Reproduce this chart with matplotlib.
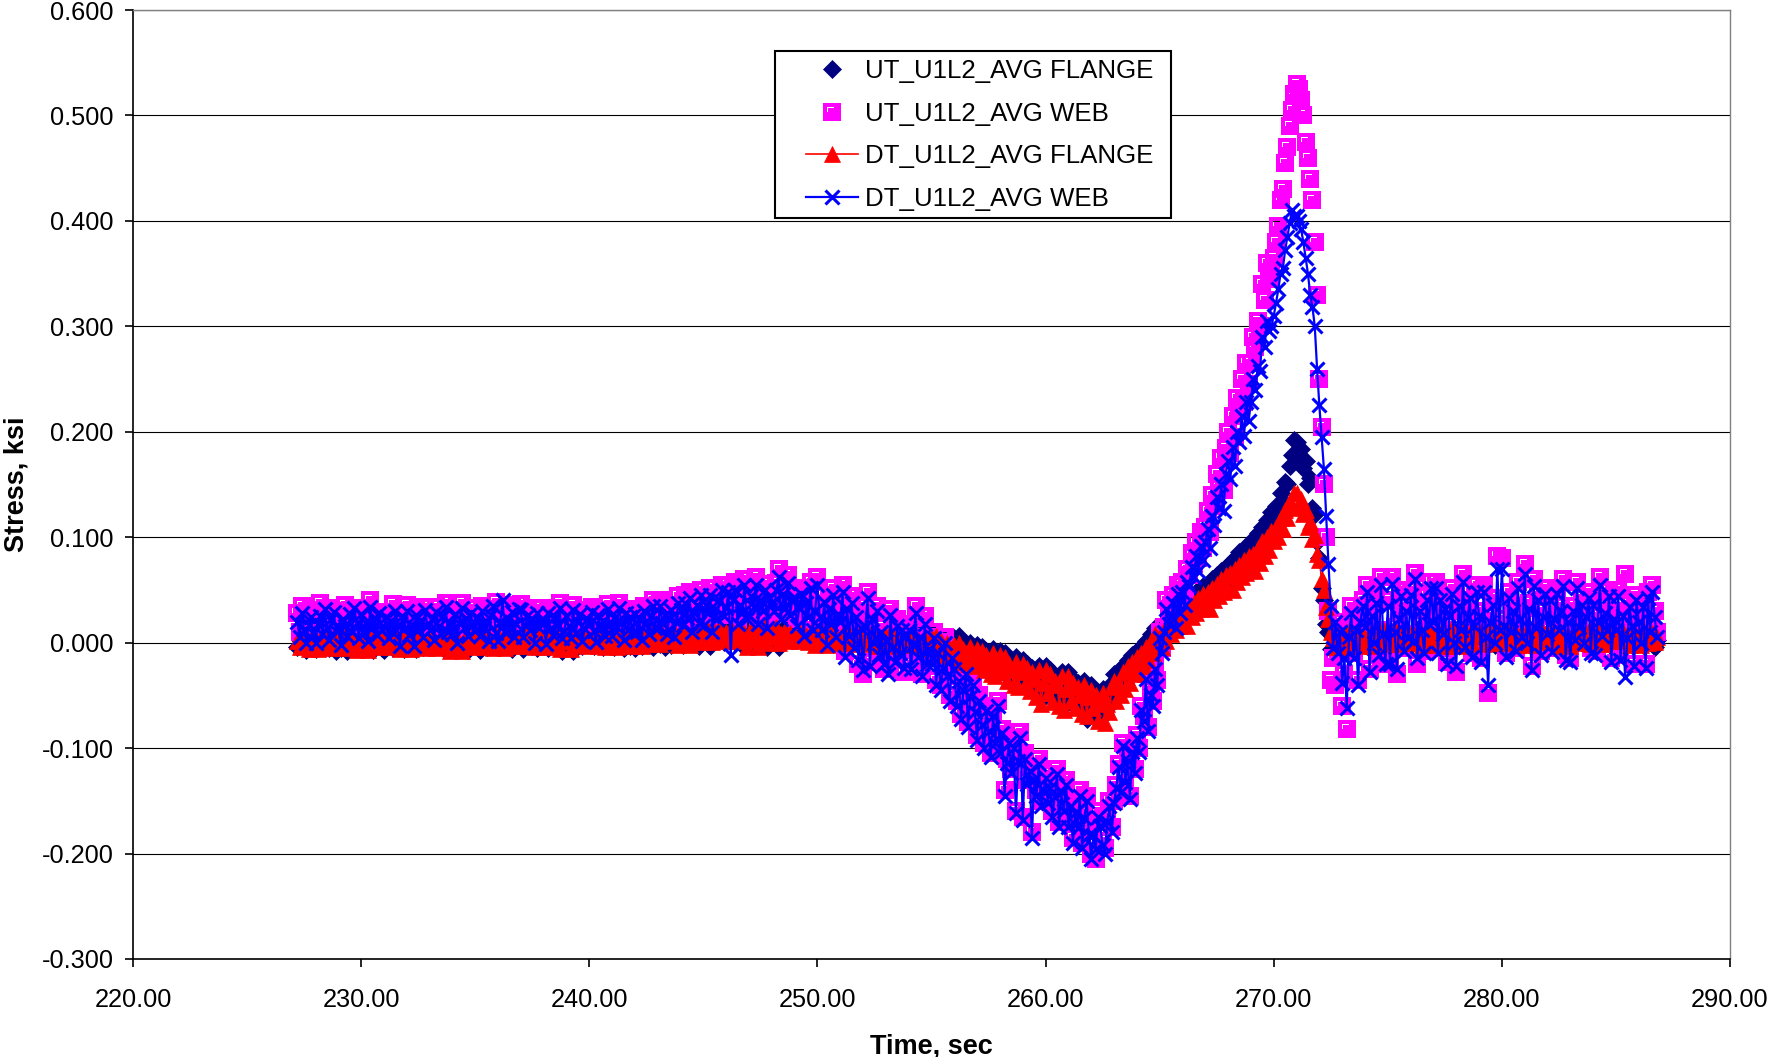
import numpy as np
import matplotlib
matplotlib.use("Agg")
import matplotlib.pyplot as plt
from matplotlib.path import Path
from matplotlib.patches import Rectangle
from matplotlib.ticker import FormatStrFormatter

plt.rcParams["font.family"] = ["Liberation Sans", "DejaVu Sans"]
plt.rcParams["axes.unicode_minus"] = False

# Sampling: first sample time and interval (s)
t_start = 227.2
t_step = 0.1

# Stress readings in thousandths of a ksi, one row per second (x.0 ... x.9)
ut_flange = [
    -4, 3, -2, 5, -7, 1, 6, -3,
    -6, 1, 4, -3, 2, 7, -5, 0, 3, -8,
    5, -5, 0, 3, -8, 2, -2, 6, -4, 1,
    2, -2, 6, -4, 1, -7, 4, -1, 2, -5,
    -7, 4, -1, 2, -5, 3, -3, 5, 0, -6,
    3, -3, 5, 0, -6, 1, 4, -4, 2, -2,
    1, 4, -4, 2, -2, 6, -5, 0, 3, -3,
    6, -5, 0, 3, -3, -1, 2, -7, 4, 1,
    -1, 2, -7, 4, 1, -4, 5, -2, 0, 3,
    -4, 5, -2, 0, 3, 2, -6, 4, -1, 5,
    2, -6, 4, -1, 5, -3, 1, -5, 6, 0,
    -3, 1, -5, 6, 0, 3, -2, 2, -8, 4,
    3, -2, 2, -8, 4, 0, 5, -3, 2, -1,
    0, 5, -3, 2, -1, 4, -4, 1, 6, -2,
    4, -4, 1, 6, -2, -5, 3, 0, -3, 5,
    -5, 3, 0, -3, 5, 2, -1, 6, -4, 3,
    2, -1, 6, -4, 3, 5, -2, 8, 0, 4,
    5, -2, 8, 0, 4, 9, 2, 12, -3, 7,
    9, 2, 12, -3, 7, 14, 4, 10, 18, 1,
    14, 4, 10, 18, 1, 8, 15, -2, 11, 6,
    8, 15, -2, 11, 6, 16, 5, 12, -4, 9,
    16, 5, 12, -4, 9, 13, 3, 17, 8, 10,
    13, 3, 17, 8, 10, 6, 12, 2, 9, 14,
    6, 12, 2, 9, 14, 4, 11, 7, -1, 10,
    4, 11, 7, -1, 10, 8, 13, 3, 9, 5,
    8, 13, 3, 9, 5, 12, 6, 10, 2, 8,
    12, 6, 10, 2, 8, 9, 4, 11, 6, 3,
    9, 4, 11, 6, 3, 7, 1, 5, -2, 4,
    8, -2, 10, -6, 6, 0, -8, 4, -10, -2,
    4, -10, 6, -14, -2, -6, -16, 0, -18, -8,
    -2, -16, -4, -22, -8, -14, -26, -6, -28, -16,
    -8, -24, -10, -32, -16, -22, -36, -14, -38, -24,
    -16, -36, -20, -42, -24, -30, -48, -22, -54, -34,
    -22, -44, -26, -52, -32, -36, -56, -28, -60, -40,
    -28, -52, -34, -60, -38, -46, -66, -36, -72, -50,
    -40, -60, -46, -70, -52, -44, -68, -54, -60, -38,
    -30, -50, -34, -44, -22, -38, -16, -32, -12, -24,
    -8, -22, -4, -16, 2, -10, 8, -4, 14, 4,
    12, 2, 18, 8, 24, 14, 28, 18, 32, 22,
    28, 38, 24, 42, 32, 46, 36, 50, 40, 54,
    44, 56, 40, 60, 48, 64, 52, 68, 56, 72,
    60, 76, 58, 80, 68, 86, 72, 90, 78, 94,
    82, 98, 80, 104, 90, 110, 96, 116, 104, 124,
    116, 130, 122, 142, 134, 152, 150, 168, 178, 192,
    190, 176, 184, 166, 172, 150, 156, 128, 122, 95,
    80, 52, 40, 18, 10, -6, 8, -2, 4, 10,
    10, -6, 4, 12, -2, 6, -3, 9, 2, 14,
    6, -3, 9, 2, 14, 0, 8, -5, 5, 10,
    0, 8, -5, 5, 10, -2, 7, 3, 12, -4,
    -2, 7, 3, 12, -4, 6, 1, 9, -3, 4,
    6, 1, 9, -3, 4, 8, -1, 5, 11, 2,
    8, -1, 5, 11, 2, -3, 6, 10, 0, 7,
    -3, 6, 10, 0, 7, 4, 12, -2, 8, 3,
    4, 12, -2, 8, 3, 9, 0, 6, -4, 5,
    9, 0, 6, -4, 5, 2, 10, 4, 7, -3,
    2, 10, 4, 7, -3, 6, -2, 8, 3, 11,
    6, -2, 8, 3, 11, 0, 5, -1, 9, 4,
    0, 5, -1, 9, 4, 7, 2, 10, -3, 6,
    7, 2, 10, -3, 6, 3, 8, -2, 5, 9,
    3, 8, -2, 5, 9, 1, 6, -4, 3,
]

ut_web = [
    28, 10, 35, 18, 6, 24, 31, 14,
    5, 22, 38, 12, 27, 16, 33, 9, 20, 30,
    16, 3, 27, 36, 9, 21, 13, 32, 24, 7,
    33, 14, 24, 6, 40, 19, 11, 28, 2, 22,
    19, 29, 8, 25, 37, 13, 21, 4, 30, 17,
    36, 11, 22, 2, 30, 18, 26, 9, 34, 14,
    17, 26, 7, 34, 21, 12, 29, 38, 5, 23,
    12, 31, 4, 23, 38, 16, 27, 10, 20, 33,
    15, 28, 10, 35, 19, 3, 24, 32, 13, 39,
    6, 24, 32, 14, 27, 20, 36, 8, 18, 29,
    37, 9, 21, 30, 16, 26, 4, 33, 12, 23,
    25, 3, 33, 18, 11, 29, 20, 38, 7, 15,
    29, 20, 8, 36, 13, 24, 31, 5, 19, 27,
    22, 34, 15, 5, 31, 18, 26, 10, 37, 21,
    10, 27, 19, 38, 24, 6, 32, 16, 28, 13,
    32, 14, 26, 7, 35, 21, 11, 29, 40, 18,
    18, 40, 23, 30, 12, 27, 35, 9, 25, 44,
    36, 21, 45, 28, 48, 15, 33, 42, 24, 50,
    20, 42, 33, 52, 15, 38, 27, 46, 55, 30,
    38, 55, 26, 47, 58, 22, 41, 34, 60, 29,
    30, 50, 40, 62, 24, 45, 36, 56, 19, 48,
    44, 35, 57, 70, 28, 52, 39, 64, 32, 47,
    48, 22, 39, 52, 12, 44, 30, 58, 18, 36,
    62, 30, 18, 45, 5, 38, 25, 52, 10, 33,
    25, 55, -8, 38, 12, 44, 0, 30, -20, 20,
    -30, 20, 48, -18, 28, 5, 35, -8, 15, -25,
    8, -25, 32, 2, -12, 22, -5, 18, -28, 12,
    18, -20, 5, 35, -8, 10, -30, 25, -15, 0,
    -15, 10, -35, -5, -40, -20, 5, -28, -50, -10,
    -20, -55, -32, -68, -40, -25, -75, -48, -35, -62,
    -88, -50, -72, -95, -60, -80, -105, -65, -90, -55,
    -100, -82, -140, -110, -90, -120, -95, -160, -108, -85,
    -165, -105, -130, -118, -180, -125, -140, -110, -150, -135,
    -125, -148, -135, -160, -142, -120, -170, -138, -155, -130,
    -170, -150, -185, -158, -172, -140, -190, -162, -145, -178,
    -200, -178, -205, -160, -170, -188, -195, -165, -150, -175,
    -150, -135, -115, -140, -95, -128, -110, -145, -100, -120,
    -88, -100, -60, -70, -30, -80, -45, -55, -20, -35,
    10, -5, 15, 40, 25, 30, 45, 20, 55, 35,
    58, 45, 70, 64, 85, 75, 95, 80, 105, 90,
    110, 125, 105, 140, 130, 160, 150, 175, 145, 185,
    200, 180, 215, 195, 232, 220, 250, 228, 265, 245,
    265, 290, 280, 305, 300, 340, 325, 360, 345, 350,
    365, 380, 395, 420, 430, 455, 470, 490, 505, 520,
    530, 525, 515, 500, 475, 460, 440, 420, 380, 330,
    250, 205, 150, 100, 30, -35, -15, -40, 5, 20,
    -60, -30, -82, 10, 35, -10, 15, -35, 25, 40,
    20, 55, -25, 30, 5, 45, -10, 62, 12, -20,
    40, -15, 62, 15, -30, 28, 50, -5, 35, 8,
    50, 8, 66, -20, 35, 18, -8, 45, 22, 58,
    25, 58, -5, 45, 12, 38, -18, 30, 52, 2,
    -28, 40, 18, 65, 2, 30, 48, -10, 22, 55,
    30, -15, 55, 10, -48, 25, 42, 5, 82, 18,
    80, 22, -10, 48, 15, 35, -5, 58, 28, 10,
    75, 5, 38, -22, 60, 20, 45, -8, 30, 52,
    12, 45, -5, 28, 52, 18, 35, 60, -12, 25,
    -15, 35, 8, 58, 20, 42, 5, 30, 48, -5,
    42, -8, 25, 62, 10, 35, 18, 50, -15, 28,
    18, 50, -12, 30, 65, 8, 40, 22, -20, 45,
    25, 5, 40, -20, 48, 15, 55, 30, 10,
]

dt_flange = [
    2, -4, 5, 0, 3, -6, 1, 7,
    3, -6, 1, 7, -2, 4, 0, -5, 6, 2,
    4, 0, -5, 6, 2, -3, 5, 1, -7, 3,
    -3, 5, 1, -7, 3, 6, -1, 3, -4, 8,
    6, -1, 3, -4, 8, 0, 4, -6, 2, 5,
    0, 4, -6, 2, 5, -2, 7, 1, -5, 3,
    -2, 7, 1, -5, 3, 5, -3, 4, 0, -8,
    5, -3, 4, 0, -8, 2, 6, -2, 4, -4,
    2, 6, -2, 4, -4, 7, 0, 3, -5, 5,
    7, 0, 3, -5, 5, -1, 4, 8, -3, 2,
    -1, 4, 8, -3, 2, 5, -4, 1, 6, -2,
    5, -4, 1, 6, -2, 3, 7, -6, 2, 4,
    3, 7, -6, 2, 4, -2, 5, 0, 8, -3,
    -2, 5, 0, 8, -3, 6, 1, -4, 4, 7,
    6, 1, -4, 4, 7, 0, 9, 2, -3, 6,
    0, 9, 2, -3, 6, 4, -1, 8, 3, 10,
    4, -1, 8, 3, 10, 7, 2, 11, 5, -2,
    7, 2, 11, 5, -2, 9, 3, 12, 6, 1,
    9, 3, 12, 6, 1, 10, 4, 14, 7, 2,
    10, 4, 14, 7, 2, 8, 13, 3, 9, -4,
    8, 13, 3, 9, -4, 11, 5, 15, 0, 8,
    11, 5, 15, 0, 8, 6, 12, 2, 9, 4,
    6, 12, 2, 9, 4, 7, 1, 10, 5, -2,
    7, 1, 10, 5, -2, 4, 9, 0, 6, 2,
    4, 9, 0, 6, 2, 8, 3, -1, 7, 5,
    8, 3, -1, 7, 5, 2, 6, -3, 4, 8,
    2, 6, -3, 4, 8, 5, 0, 7, -2, 3,
    5, 0, 7, -2, 3, 1, -4, 4, -6, 0,
    4, -6, 6, -10, 2, -4, -12, 0, -14, -6,
    -2, -14, 0, -18, -6, -10, -20, -4, -22, -12,
    -6, -20, -8, -26, -12, -18, -30, -10, -32, -20,
    -12, -28, -14, -36, -20, -26, -40, -18, -42, -28,
    -20, -40, -24, -46, -28, -34, -52, -26, -58, -38,
    -26, -48, -30, -56, -36, -40, -60, -32, -64, -44,
    -32, -55, -38, -62, -42, -50, -68, -40, -70, -52,
    -45, -62, -50, -74, -56, -48, -76, -58, -66, -42,
    -36, -55, -40, -50, -28, -44, -22, -38, -18, -30,
    -14, -28, -10, -22, -4, -16, 2, -10, 8, -2,
    6, -4, 12, 2, 18, 8, 22, 12, 26, 16,
    20, 30, 16, 34, 24, 38, 28, 42, 32, 46,
    36, 48, 32, 52, 40, 56, 44, 60, 48, 64,
    52, 66, 50, 70, 58, 74, 62, 78, 66, 82,
    70, 84, 68, 90, 76, 96, 82, 100, 88, 106,
    96, 110, 100, 118, 108, 126, 118, 134, 128, 142,
    142, 130, 136, 122, 126, 110, 114, 98, 102, 84,
    78, 60, 50, 34, 22, 10, 4, -4, 8, 2,
    6, -4, 10, 2, 12, 4, 0, 8, -3, 6,
    4, 0, 8, -3, 6, 10, 2, 5, 13, -1,
    10, 2, 5, 13, -1, 3, 9, 0, 6, 11,
    3, 9, 0, 6, 11, -2, 5, 12, 1, 7,
    -2, 5, 12, 1, 7, 8, -3, 4, 14, 2,
    8, -3, 4, 14, 2, 6, 10, -1, 5, 9,
    6, 10, -1, 5, 9, 12, 3, 7, 0, 15,
    12, 3, 7, 0, 15, 4, 9, -2, 6, 11,
    4, 9, -2, 6, 11, 1, 7, 13, 3, 8,
    1, 7, 13, 3, 8, -3, 5, 10, 2, 6,
    -3, 5, 10, 2, 6, 9, 0, 4, 12, -1,
    9, 0, 4, 12, -1, 5, 8, 2, 10, 3,
    5, 8, 2, 10, 3, 7, -2, 6, 11, 0,
    7, -2, 6, 11, 0, 4, 9, 1, 5,
]

dt_web = [
    20, 5, 28, 12, 0, 17, 24, 9,
    0, 18, 25, 8, 32, 14, 3, 22, 29, 11,
    14, -2, 22, 16, 6, 27, 10, 33, 19, 4,
    27, 10, 19, 2, 34, 15, 23, 7, 28, 12,
    15, 24, 4, 21, 9, 30, 17, -3, 25, 13,
    30, 7, 17, -3, 26, 12, 21, 5, 31, 16,
    12, 22, 3, 29, 16, 8, 25, 34, 10, 19,
    8, 27, 0, 19, 33, 14, 23, 6, 28, 17,
    11, 24, 6, 30, 14, 20, 2, 26, 35, 9,
    2, 20, 40, 10, 23, 15, 29, 5, 18, 32,
    31, 5, 17, 26, 12, 22, 0, 28, 14, 20,
    21, -1, 28, 14, 7, 24, 16, 33, 4, 11,
    25, 16, 4, 31, 9, 20, 27, 2, 13, 22,
    18, 29, 11, 1, 26, 14, 21, 6, 32, 17,
    6, 23, 15, 33, 20, 3, 28, 12, 24, 9,
    27, 10, 22, 3, 30, 18, 8, 25, 35, 14,
    14, 35, 19, 26, 8, 22, 31, 5, 20, 38,
    31, 17, 38, 23, 42, 10, 28, 36, 19, 45,
    16, 36, 28, 45, 10, 32, 22, 40, 50, 25,
    33, 48, -12, 40, 50, 18, 36, 28, 55, 22,
    25, 44, 34, 55, 18, 40, 30, 50, 14, 42,
    38, 30, 50, 62, 22, 46, 33, 57, 26, 41,
    42, 16, 33, 46, 6, 38, 24, 52, 12, 30,
    55, 24, 12, 39, -2, 32, 18, 45, 5, 27,
    20, 48, -14, 32, 6, 38, -5, 24, -16, 14,
    -26, 15, 42, -22, 22, 0, 30, -12, 10, -20,
    2, -30, 26, -4, -18, 16, -10, 12, -24, 6,
    12, -25, -2, 28, -14, 5, -32, 18, -20, -6,
    -20, 4, -40, -10, -45, -24, 0, -32, -55, -15,
    -25, -60, -36, -72, -45, -30, -80, -52, -40, -66,
    -92, -55, -78, -100, -65, -84, -108, -70, -95, -60,
    -105, -86, -145, -114, -95, -124, -100, -162, -112, -90,
    -168, -110, -134, -122, -185, -130, -145, -115, -155, -140,
    -128, -152, -138, -165, -146, -125, -175, -142, -160, -135,
    -175, -155, -190, -162, -176, -145, -195, -166, -150, -182,
    -205, -182, -196, -165, -174, -192, -200, -170, -155, -180,
    -152, -138, -118, -142, -98, -132, -112, -148, -104, -124,
    -90, -104, -64, -74, -34, -84, -50, -60, -25, -40,
    4, -10, 10, 32, 18, 24, 38, 14, 46, 28,
    48, 36, 58, 54, 72, 62, 82, 68, 92, 78,
    95, 108, 90, 120, 112, 138, 128, 150, 125, 160,
    172, 155, 186, 168, 200, 190, 215, 196, 228, 210,
    228, 250, 240, 262, 258, 290, 280, 305, 296, 300,
    310, 322, 335, 350, 355, 372, 385, 398, 410, 405,
    405, 400, 392, 380, 365, 350, 330, 318, 300, 260,
    225, 195, 165, 120, 75, 35, -5, 20, -10, 10,
    -38, -15, -62, 5, 28, -15, 12, -40, 20, 35,
    15, 48, -28, 25, 0, 38, -12, 55, 8, -20,
    35, -20, 56, 10, -25, 22, 44, -8, 30, 4,
    45, 2, 60, -15, 30, 12, -10, 40, 18, 52,
    20, 52, -10, 40, 8, 32, -20, 25, 46, 0,
    -22, 35, 12, 58, -4, 24, 42, -14, 16, 48,
    25, -18, 48, 5, -40, 20, 36, 0, 70, 12,
    70, 16, -14, 42, 10, 30, -8, 52, 22, 5,
    65, 0, 32, -26, 54, 14, 40, -12, 24, 46,
    8, 40, -9, 22, 46, 12, 30, 54, -16, 20,
    -18, 30, 3, 52, 15, 36, 0, 24, 42, -10,
    36, -12, 20, 55, 6, 28, 12, 44, -18, 22,
    12, 44, -16, 25, -33, 4, 34, 16, -22, 40,
    20, 0, 34, -24, 42, 10, 48, 24, 5,
]

series_labels = ["UT_U1L2_AVG FLANGE", "UT_U1L2_AVG WEB",
                 "DT_U1L2_AVG FLANGE", "DT_U1L2_AVG WEB"]
x_ticks = [220, 230, 240, 250, 260, 270, 280, 290]
y_ticks = [-0.3, -0.2, -0.1, 0.0, 0.1, 0.2, 0.3, 0.4, 0.5, 0.6]


def times(vals):
    return np.round(t_start + t_step * np.arange(len(vals)), 2)


def ksi(vals):
    return np.asarray(vals, dtype=float) / 1000.0


# Square marker with a thin light "corner" highlight cut into it
sq_verts = [(-0.5, -0.5), (0.5, -0.5), (0.5, 0.5), (-0.5, 0.5), (-0.5, -0.5),
            (-0.3, 0.0), (-0.3, 0.3), (0.12, 0.3), (0.12, 0.23),
            (-0.23, 0.23), (-0.23, 0.0), (-0.3, 0.0)]
sq_codes = [Path.MOVETO, Path.LINETO, Path.LINETO, Path.LINETO, Path.CLOSEPOLY,
            Path.MOVETO, Path.LINETO, Path.LINETO, Path.LINETO,
            Path.LINETO, Path.LINETO, Path.CLOSEPOLY]
highlight_square = Path(sq_verts, sq_codes)

W, H = 1771, 1057
fig = plt.figure(figsize=(W / 100, H / 100), dpi=100)
ax = fig.add_axes([133 / W, 1 - 959 / H, (1730 - 133) / W, (959 - 10) / H])

h1, = ax.plot(times(ut_flange), ksi(ut_flange), ls="none", marker="D",
              ms=9, mfc="#000080", mec="#000080", mew=0.5,
              label=series_labels[0], zorder=3)
h2, = ax.plot(times(ut_web), ksi(ut_web), ls="none", marker=highlight_square,
              ms=12.5, mfc="#FF00FF", mec="#FF00FF", mew=0.0,
              label=series_labels[1], zorder=4)
h3, = ax.plot(times(dt_flange), ksi(dt_flange), ls="-", lw=1.2, color="#FF0000",
              marker="^", ms=12, mfc="#FF0000", mec="#FF0000", mew=0.5,
              label=series_labels[2], zorder=5)
h4, = ax.plot(times(dt_web), ksi(dt_web), ls="-", lw=1.6, color="#0000FF",
              marker="x", ms=10, mec="#0000FF", mew=2.2,
              label=series_labels[3], zorder=6)

ax.set_xlim(220, 290)
ax.set_ylim(-0.3, 0.6)
ax.set_xticks(x_ticks)
ax.set_yticks(y_ticks)
ax.xaxis.set_major_formatter(FormatStrFormatter("%.2f"))
ax.yaxis.set_major_formatter(FormatStrFormatter("%.3f"))
ax.yaxis.grid(True, color="black", lw=0.8)
ax.set_axisbelow(True)

for side in ("left", "bottom"):
    ax.spines[side].set_color("black")
    ax.spines[side].set_linewidth(1.2)
for side in ("top", "right"):
    ax.spines[side].set_color("#808080")
    ax.spines[side].set_linewidth(1.0)

ax.tick_params(axis="both", direction="out", length=6, width=1.2,
               labelsize=18.3, colors="black")
ax.tick_params(axis="y", pad=8)
ax.tick_params(axis="x", pad=15)

fig.text(17 / W, 1 - 484 / H, "Stress, ksi", rotation=90, ha="center",
         va="center", fontsize=19.5, fontweight="bold")
fig.text(931.5 / W, 1 - 1046 / H, "Time, sec", ha="center", va="center",
         fontsize=19.5, fontweight="bold")

# Legend box
fig.add_artist(Rectangle((775 / W, 1 - 218 / H), (1171 - 775) / W, (218 - 51) / H,
                         transform=fig.transFigure, facecolor="white",
                         edgecolor="black", lw=1.5, zorder=4))
fig.legend(handles=[h1, h2, h3, h4], labels=series_labels, loc="upper left",
           bbox_to_anchor=(806 / W, 1 - 59 / H), frameon=False, fontsize=18.6,
           handlelength=2.0, handletextpad=0.3, labelspacing=0.72,
           borderpad=0.0, borderaxespad=0.0, numpoints=1)

fig.savefig("out.png", dpi=100)
